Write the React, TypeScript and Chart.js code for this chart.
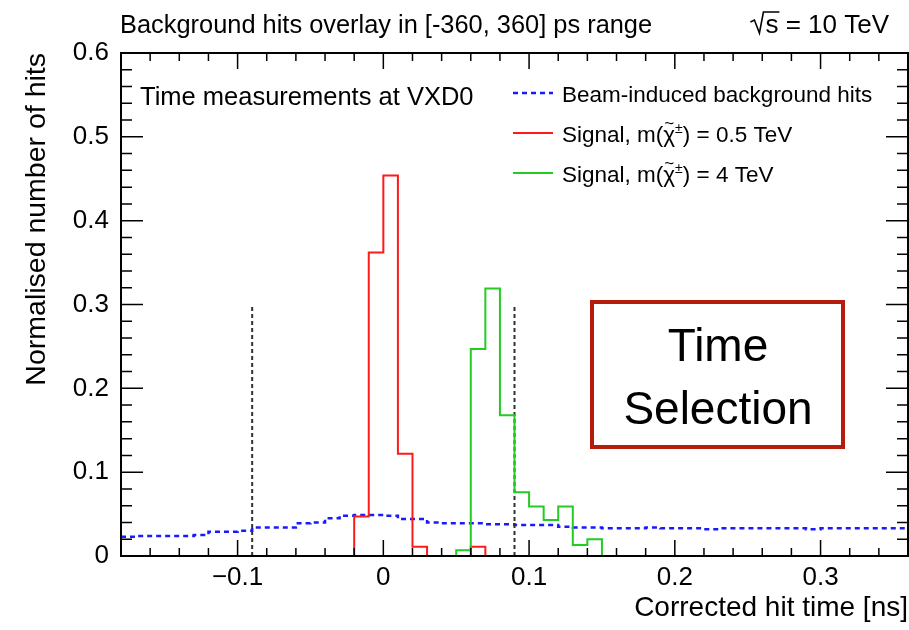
import React, { useEffect, useRef } from 'react';
import { Chart, registerables } from 'chart.js';

Chart.register(...registerables);

const FONT = '"Liberation Sans", Arial, Helvetica, sans-serif';

// ---- Binning (ns) ----
const BIN_WIDTH = 0.01;
const BKG_FIRST_EDGE = -0.18;
const SIG_FIRST_EDGE = -0.02;

// Beam-induced background hits, bins of 0.01 ns from -0.18 to 0.36
const backgroundHits = [
  0.023, 0.024, 0.024, 0.024, 0.024, 0.025, 0.029, 0.029, 0.030, 0.034,
  0.034, 0.034, 0.039, 0.040, 0.045, 0.048, 0.049, 0.049, 0.048, 0.044,
  0.044, 0.040, 0.039, 0.039, 0.039, 0.038, 0.038, 0.037, 0.037, 0.037,
  0.035, 0.034, 0.034, 0.033, 0.033, 0.033, 0.034, 0.033, 0.033, 0.033,
  0.032, 0.033, 0.033, 0.033, 0.033, 0.033, 0.033, 0.032, 0.033, 0.033,
  0.033, 0.033, 0.033, 0.033,
];

// Signal m = 0.5 TeV, bins of 0.01 ns from -0.02 to 0.27
const signal05TeV = [
  0.047, 0.362, 0.454, 0.122, 0.011, 0, 0, 0, 0.011, 0,
  0, 0, 0, 0, 0, 0, 0, 0, 0, 0,
  0, 0, 0, 0, 0, 0, 0, 0, 0,
];

// Signal m = 4 TeV, bins of 0.01 ns from -0.02 to 0.27
const signal4TeV = [
  0, 0, 0, 0, 0, 0, 0, 0.007, 0.247, 0.319,
  0.168, 0.076, 0.059, 0.043, 0.059, 0.013, 0.020, 0, 0, 0,
  0, 0, 0, 0, 0, 0, 0, 0, 0,
];

const seriesLabels = [
  'Beam-induced background hits',
  'Signal, m(',
  'Signal, m(',
];
const seriesSuffix = ['', ') = 0.5 TeV', ') = 4 TeV'];

// ---- Axes ----
const X_MIN = -0.18;
const X_MAX = 0.36;
const Y_MIN = 0;
const Y_MAX = 0.6;
const xMajorTicks = [-0.1, 0, 0.1, 0.2, 0.3];
const yMajorTicks = [0, 0.1, 0.2, 0.3, 0.4, 0.5, 0.6];
const X_MINOR_STEP = 0.02;
const Y_MINOR_STEP = 0.02;

// Time-selection window
const cutEdges = [-0.09, 0.09];
const CUT_TOP = 0.3;

const RED = '#ff1a1a';
const GREEN = '#22cc22';
const BLUE = '#1a1aff';

function histogramPoints(firstEdge: number, values: number[], closeToZero: boolean) {
  const pts: { x: number; y: number }[] = [];
  if (closeToZero) pts.push({ x: firstEdge, y: 0 });
  values.forEach((v, i) => pts.push({ x: +(firstEdge + i * BIN_WIDTH).toFixed(4), y: v }));
  const lastEdge = +(firstEdge + values.length * BIN_WIDTH).toFixed(4);
  pts.push({ x: lastEdge, y: closeToZero ? 0 : values[values.length - 1] });
  return pts;
}

function fmtTick(v: number) {
  if (Math.abs(v) < 1e-9) return '0';
  const s = Math.abs(v).toFixed(1);
  return v < 0 ? '\u2212' + s : s;
}

const frameTicksPlugin = {
  id: 'frameTicks',
  afterDatasetsDraw(chart: any) {
    const { ctx, chartArea: a, scales } = chart;
    const x = scales.x;
    const y = scales.y;
    ctx.save();
    ctx.strokeStyle = '#000';
    ctx.lineWidth = 1.5;
    ctx.beginPath();
    const nx = Math.round((X_MAX - X_MIN) / X_MINOR_STEP);
    for (let i = 0; i <= nx; i++) {
      const v = X_MIN + i * X_MINOR_STEP;
      const major = Math.abs(v * 10 - Math.round(v * 10)) < 1e-6;
      const len = major ? 16 : 8;
      const px = x.getPixelForValue(v);
      ctx.moveTo(px, a.bottom);
      ctx.lineTo(px, a.bottom - len);
      ctx.moveTo(px, a.top);
      ctx.lineTo(px, a.top + len);
    }
    const ny = Math.round((Y_MAX - Y_MIN) / Y_MINOR_STEP);
    for (let i = 0; i <= ny; i++) {
      const v = Y_MIN + i * Y_MINOR_STEP;
      const major = Math.abs(v * 10 - Math.round(v * 10)) < 1e-6;
      const len = major ? 22 : 11;
      const py = y.getPixelForValue(v);
      ctx.moveTo(a.left, py);
      ctx.lineTo(a.left + len, py);
      ctx.moveTo(a.right, py);
      ctx.lineTo(a.right - len, py);
    }
    ctx.stroke();
    ctx.lineWidth = 2;
    ctx.strokeRect(a.left, a.top, a.right - a.left, a.bottom - a.top);
    ctx.restore();
  },
};

function drawChiLabel(ctx: CanvasRenderingContext2D, x: number, y: number, prefix: string, suffix: string) {
  ctx.font = `22.5px ${FONT}`;
  ctx.textAlign = 'left';
  ctx.fillText(prefix, x, y);
  x += ctx.measureText(prefix).width;
  ctx.fillText('\u03C7', x, y);
  const chiW = ctx.measureText('\u03C7').width;
  // tilde above chi
  ctx.font = `17px ${FONT}`;
  const tW = ctx.measureText('~').width;
  ctx.fillText('~', x + chiW / 2 - tW / 2, y - 13);
  // superscript +-
  ctx.font = `14px ${FONT}`;
  ctx.fillText('\u00B1', x + chiW, y - 9);
  const pmW = ctx.measureText('\u00B1').width;
  x += chiW + pmW;
  ctx.font = `22.5px ${FONT}`;
  ctx.fillText(suffix, x, y);
}

const annotationsPlugin = {
  id: 'annotations',
  afterDraw(chart: any) {
    const { ctx } = chart;
    ctx.save();
    ctx.fillStyle = '#000';
    ctx.textBaseline = 'alphabetic';
    // top title
    ctx.font = `25.4px ${FONT}`;
    ctx.textAlign = 'left';
    ctx.fillText('Background hits overlay in [-360, 360] ps range', 120, 33);
    // sqrt(s) = 10 TeV
    ctx.font = `26px ${FONT}`;
    ctx.textAlign = 'right';
    const rest = 's = 10 TeV';
    ctx.fillText(rest, 889, 33);
    const restW = ctx.measureText(rest).width;
    const sW = ctx.measureText('s').width;
    const sx = 889 - restW;
    ctx.beginPath();
    ctx.strokeStyle = '#000';
    ctx.lineWidth = 1.6;
    ctx.moveTo(sx - 15, 22);
    ctx.lineTo(sx - 11, 20);
    ctx.lineTo(sx - 6, 33);
    ctx.lineTo(sx - 2, 12);
    ctx.lineTo(sx + sW + 1, 12);
    ctx.stroke();

    // inner label
    ctx.font = `25.5px ${FONT}`;
    ctx.textAlign = 'left';
    ctx.fillText('Time measurements at VXD0', 140, 105);

    // legend
    const lx0 = 513;
    const lx1 = 553;
    const rows = [93, 133, 173];
    const colors = [BLUE, RED, GREEN];
    rows.forEach((ry, i) => {
      ctx.beginPath();
      ctx.strokeStyle = colors[i];
      ctx.lineWidth = i === 0 ? 2.5 : 2;
      ctx.setLineDash(i === 0 ? [5, 4] : []);
      ctx.moveTo(lx0, ry);
      ctx.lineTo(lx1, ry);
      ctx.stroke();
      ctx.setLineDash([]);
      ctx.fillStyle = '#000';
      if (i === 0) {
        ctx.font = `22.5px ${FONT}`;
        ctx.fillText(seriesLabels[0], 562, ry + 9);
      } else {
        drawChiLabel(ctx, 562, ry + 9, seriesLabels[i], seriesSuffix[i]);
      }
    });

    // Time Selection box
    ctx.fillStyle = '#fff';
    ctx.fillRect(592, 302, 251, 145);
    ctx.strokeStyle = '#b51c0c';
    ctx.lineWidth = 4;
    ctx.strokeRect(592, 302, 251, 145);
    ctx.fillStyle = '#000';
    ctx.font = `46px ${FONT}`;
    ctx.textAlign = 'center';
    ctx.fillText('Time', 718, 361);
    ctx.fillText('Selection', 718, 424);
    ctx.restore();
  },
};

export default function App() {
  const ref = useRef<HTMLCanvasElement | null>(null);

  useEffect(() => {
    if (!ref.current) return;
    const cutDatasets = cutEdges.map((c) => ({
      label: 'cut',
      data: [
        { x: c, y: 0 },
        { x: c, y: CUT_TOP },
      ],
      borderColor: '#333333',
      borderWidth: 2,
      borderDash: [4, 3],
      pointRadius: 0,
      fill: false,
    }));
    const chart = new Chart(ref.current, {
      type: 'line',
      data: {
        datasets: [
          {
            label: seriesLabels[2] + 'χ̃±' + seriesSuffix[2],
            data: histogramPoints(SIG_FIRST_EDGE, signal4TeV, true),
            borderColor: GREEN,
            borderWidth: 2,
            stepped: true,
            pointRadius: 0,
            fill: false,
          },
          {
            label: seriesLabels[1] + 'χ̃±' + seriesSuffix[1],
            data: histogramPoints(SIG_FIRST_EDGE, signal05TeV, true),
            borderColor: RED,
            borderWidth: 2,
            stepped: true,
            pointRadius: 0,
            fill: false,
          },
          ...cutDatasets,
          {
            label: seriesLabels[0],
            data: histogramPoints(BKG_FIRST_EDGE, backgroundHits, false),
            borderColor: BLUE,
            borderWidth: 2.5,
            borderDash: [5, 4],
            stepped: true,
            pointRadius: 0,
            fill: false,
          },
        ] as any,
      },
      options: {
        animation: false,
        responsive: false,
        maintainAspectRatio: false,
        layout: { padding: { top: 53, right: 1, left: 0, bottom: 0 } },
        plugins: {
          legend: { display: false },
          tooltip: { enabled: false },
          title: { display: false },
        },
        scales: {
          x: {
            type: 'linear',
            min: X_MIN,
            max: X_MAX,
            afterBuildTicks: (s: any) => {
              s.ticks = xMajorTicks.map((v) => ({ value: v }));
            },
            afterFit: (s: any) => {
              s.height = 74;
            },
            grid: { display: false, drawTicks: false },
            border: { display: false },
            ticks: {
              autoSkip: false,
              maxRotation: 0,
              padding: 6,
              color: '#000',
              font: { family: FONT, size: 26 },
              callback: (v: any) => fmtTick(Number(v)),
            },
            title: {
              display: true,
              text: 'Corrected hit time [ns]',
              align: 'end',
              color: '#000',
              font: { family: FONT, size: 28 },
              padding: { top: 0, bottom: 5 },
            },
          },
          y: {
            type: 'linear',
            min: Y_MIN,
            max: Y_MAX,
            afterBuildTicks: (s: any) => {
              s.ticks = yMajorTicks.map((v) => ({ value: v }));
            },
            afterFit: (s: any) => {
              s.width = 121;
            },
            grid: { display: false, drawTicks: false },
            border: { display: false },
            ticks: {
              autoSkip: false,
              padding: 12,
              color: '#000',
              font: { family: FONT, size: 26 },
              callback: (v: any) => fmtTick(Number(v)),
            },
            title: {
              display: true,
              text: 'Normalised number of hits',
              align: 'end',
              color: '#000',
              font: { family: FONT, size: 28.5 },
              padding: { top: 20, bottom: 0 },
            },
          },
        },
      } as any,
      plugins: [frameTicksPlugin, annotationsPlugin],
    });
    return () => chart.destroy();
  }, []);

  return (
    <div style={{ position: 'absolute', left: 0, top: 0, width: 909, height: 630, background: '#fff' }}>
      <canvas ref={ref} width={909} height={630} style={{ display: 'block' }} />
    </div>
  );
}
